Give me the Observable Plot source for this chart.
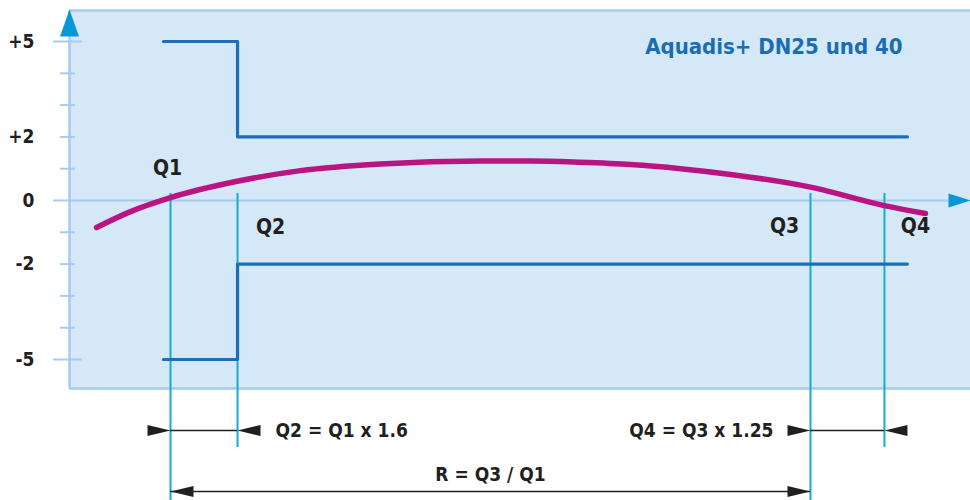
<!DOCTYPE html>
<html><head><meta charset="utf-8">
<script src="https://cdn.jsdelivr.net/npm/d3@7"></script>
<script src="https://cdn.jsdelivr.net/npm/@observablehq/plot@0.6"></script>
<style>html,body{margin:0;padding:0;background:#fff;}</style>
</head><body><div id="chart"></div>
<script>
// ---- data ----
const yTickValues = [5, 4, 3, 2, 1, 0, -1, -2, -3, -4, -5];
const yLabelValues = [5, 2, 0, -2, -5];
const yLabelTexts = ["+5", "+2", "0", "-2", "-5"];
const qNames = ["Q1", "Q2", "Q3", "Q4"];
const qFlows = [11.21, 18.65, 82.24, 90.45];
const curveFlow  = [3.0, 6.77, 11.21, 18.2, 25.64, 34.52, 45.62, 51.17, 56.71, 62.26, 67.81, 73.36, 82.24, 90.45, 95.0];
const curveError = [-0.85, -0.35, 0.09, 0.58, 0.94, 1.15, 1.24, 1.24, 1.20, 1.13, 1.0, 0.82, 0.42, -0.16, -0.41];
const upperFlow = [10.43, 18.65, 93.0];
const upperLimit = [5, 2, 2];
const lowerFlow = [10.43, 18.65, 93.0];
const lowerLimit = [-5, -2, -2];
const titleText = "Aquadis+ DN25 und 40";
const formulaTexts = ["Q2 = Q1 x 1.6", "Q4 = Q3 x 1.25", "R = Q3 / Q1"];

// ---- styles / layout ----
const FONT = "'Liberation Sans Narrow', 'DejaVu Sans Condensed', 'Roboto', sans-serif";
const C = {
  panel: "#d4e8f7", grid: "#a7cbee", axis: "#0a97d9", band: "#1b6fb8",
  q: "#15acd0", curve: "#b91482", ink: "#231f20", title: "#1a6db5"
};
const yDomain = [-5.912, 5.975];
const qTop = 0.22, qLongEnd = -9.434, qShortEnd = -7.767;
const row1 = -7.233, row2 = -9.151, row2Text = -8.616;
const minorTick = [-1.0, 0.666], majorTick = [-1.776, 1.443], zeroLine = [-1.776, 97.56];
const qLabelDx = {Q1: -3, Q2: 33, Q3: -26, Q4: 31};
const qLabelY = {Q1: 1, Q2: -0.85, Q3: -0.8, Q4: -0.8};

const tri = {draw(ctx, l, r) { ctx.moveTo(0, -l); ctx.lineTo(-r, 0); ctx.lineTo(r, 0); ctx.closePath(); }};

const curveData = curveFlow.map((x, i) => ({x, y: curveError[i]}));
const upper = upperFlow.map((x, i) => ({x, y: upperLimit[i]}));
const lower = lowerFlow.map((x, i) => ({x, y: lowerLimit[i]}));
const qs = qNames.map((name, i) => ({name, x: qFlows[i], long: i % 2 === 0}));
const labelMap = new Map(yLabelValues.map((v, i) => [v, yLabelTexts[i]]));

const Q = Object.fromEntries(qs.map(d => [d.name, d.x]));

const heads = [
  {x: Q.Q1, y: row1, rot: 90}, {x: Q.Q2, y: row1, rot: 270},
  {x: Q.Q3, y: row1, rot: 90}, {x: Q.Q4, y: row1, rot: 270},
  {x: Q.Q1, y: row2, rot: 270}, {x: Q.Q3, y: row2, rot: 90}
];
const shafts = [
  {x1: Q.Q1, x2: Q.Q2, y: row1}, {x1: Q.Q3, x2: Q.Q4, y: row1}, {x1: Q.Q1, x2: Q.Q3, y: row2}
];

const chart = Plot.plot({
  width: 970, height: 500,
  marginLeft: 69, marginRight: 0, marginTop: 10, marginBottom: 112,
  style: {fontFamily: FONT, background: "white", overflow: "visible"},
  x: {domain: [0, 100], axis: null},
  y: {domain: yDomain, axis: null},
  marks: [
    Plot.frame({fill: C.panel, stroke: null}),
    // panel borders
    Plot.ruleY([yDomain[1]], {stroke: C.grid, strokeWidth: 2.5}),
    Plot.ruleY([yDomain[0]], {stroke: C.grid, strokeWidth: 2.5}),
    Plot.ruleX([0], {y1: yDomain[0], y2: yDomain[1], stroke: C.grid, strokeWidth: 2.5}),
    // ticks
    Plot.ruleY(yTickValues.filter(v => Math.abs(v) !== 5 && v !== 0), {x1: minorTick[0], x2: minorTick[1], stroke: C.grid, strokeWidth: 2}),
    Plot.ruleY([5, -5], {x1: majorTick[0], x2: majorTick[1], stroke: C.grid, strokeWidth: 2}),
    Plot.ruleY([0], {x1: zeroLine[0], x2: zeroLine[1], stroke: C.grid, strokeWidth: 2}),
    // axis arrows
    Plot.vector([{x: 0, y: 6.006}], {x: "x", y: "y", rotate: 0, length: 27, r: 9.5, anchor: "end", shape: tri, fill: C.axis, stroke: "none"}),
    Plot.vector([{x: 100, y: 0}], {x: "x", y: "y", rotate: 90, length: 22, r: 7, anchor: "end", shape: tri, fill: C.axis, stroke: "none"}),
    // y labels
    Plot.axisY({ticks: yLabelValues, tickFormat: d => labelMap.get(d), label: null, tickSize: 0, tickPadding: 35, fontSize: 19, fontWeight: "bold", fill: C.ink, fontFamily: FONT}),
    // Q lines
    Plot.ruleX(qs, {x: "x", y1: qTop, y2: d => d.long ? qLongEnd : qShortEnd, stroke: C.q, strokeWidth: 2}),
    // tolerance band
    Plot.line(upper, {x: "x", y: "y", curve: "step-after", stroke: C.band, strokeWidth: 3.2}),
    Plot.line(lower, {x: "x", y: "y", curve: "step-after", stroke: C.band, strokeWidth: 3.2}),
    // error curve
    Plot.line(curveData, {x: "x", y: "y", curve: "monotone-x", stroke: C.curve, strokeWidth: 5.5}),
    // Q labels
    ...qs.map(d => Plot.text([d], {x: "x", y: () => qLabelY[d.name], text: "name",
      dx: qLabelDx[d.name], fontSize: 21, fontWeight: "bold", fill: C.ink, fontFamily: FONT})),
    // title
    Plot.text([titleText], {frameAnchor: "top-right", dx: -68, dy: 36, lineAnchor: "middle", textAnchor: "end", fontSize: 22, fontWeight: "bold", fill: C.title, fontFamily: FONT}),
    // dimension arrows
    Plot.ruleY(shafts, {x1: "x1", x2: "x2", y: "y", stroke: C.ink, strokeWidth: 1.6}),
    Plot.vector(heads, {x: "x", y: "y", rotate: "rot", length: 23, r: 5.5, anchor: "end", shape: tri, fill: C.ink, stroke: "none"}),
    Plot.text([formulaTexts[0]], {x: Q.Q2, y: row1, dx: 38, textAnchor: "start", fontSize: 19, fontWeight: "bold", fill: C.ink, fontFamily: FONT}),
    Plot.text([formulaTexts[1]], {x: Q.Q3, y: row1, dx: -37, textAnchor: "end", fontSize: 19, fontWeight: "bold", fill: C.ink, fontFamily: FONT}),
    Plot.text([formulaTexts[2]], {x: (Q.Q1 + Q.Q3) / 2, y: row2Text, textAnchor: "middle", fontSize: 19, fontWeight: "bold", fill: C.ink, fontFamily: FONT})
  ]
});
document.getElementById("chart").appendChild(chart);
</script>
</body></html>
